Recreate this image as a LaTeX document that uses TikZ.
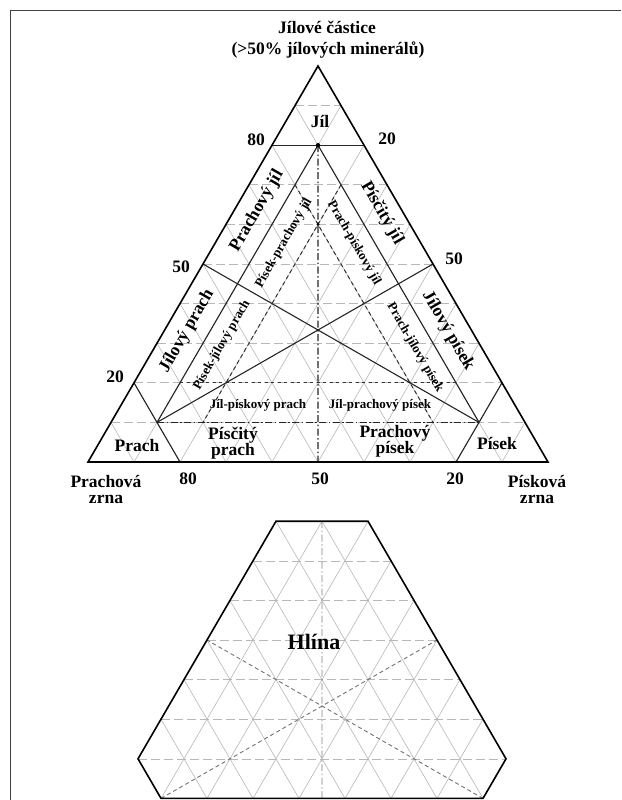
\documentclass[tikz,border=0pt]{standalone}
\usepackage{fontspec}
\setmainfont{Liberation Serif}
\usetikzlibrary{calc}
\begin{document}
\begin{tikzpicture}[x=1pt,y=-1pt,
  frameline/.style={line width=1.2pt, black!75},
  outer/.style={line width=1.6pt, black, line join=miter},
  inner/.style={line width=1.1pt, black!85},
  gridl/.style={line width=0.6pt, black!28},
  gridh/.style={line width=0.6pt, black!28, dash pattern=on 9pt off 4pt},
  dashdotline/.style={line width=1.1pt, black!85, dash pattern=on 7pt off 2.5pt on 1.5pt off 2.5pt},
  dashline/.style={line width=1pt, black!80, dash pattern=on 4pt off 3pt},
  dotline/.style={line width=1.3pt, black!80, dash pattern=on 3pt off 3.5pt},
  hexdash/.style={line width=0.9pt, black!55, dash pattern=on 4pt off 3pt},
  bigl/.style={font=\bfseries\fontsize{17.5}{16}\selectfont, align=center, inner sep=0pt},
  smalll/.style={font=\bfseries\fontsize{13}{14}\selectfont, inner sep=0pt},
  hexl/.style={font=\bfseries\fontsize{22}{24}\selectfont, inner sep=0pt},
]
\useasboundingbox (0,0) rectangle (621,800);
\fill[white] (0,0) rectangle (621,800);
\draw[frameline] (10.5,800) -- (10.5,10.5) -- (621,10.5);

% ---------- upper triangle ----------
\coordinate (A) at (318,66);
\coordinate (L) at (88,462);
\coordinate (R) at (548,462);

\foreach \k in {1,...,9}{
  \draw[gridh] ($(A)!\k/10!(L)$) -- ($(A)!\k/10!(R)$);
  \draw[gridl] ($(L)!\k/10!(R)$) -- ($(L)!\k/10!(A)$);
  \draw[gridl] ($(R)!\k/10!(L)$) -- ($(R)!\k/10!(A)$);
}

\coordinate (T)  at (barycentric cs:A=0.8,L=0.1,R=0.1);
\coordinate (P1) at (barycentric cs:A=0.1,L=0.8,R=0.1);
\coordinate (P2) at (barycentric cs:A=0.1,L=0.1,R=0.8);
\coordinate (ML) at (barycentric cs:A=1,L=1,R=0);
\coordinate (MR) at (barycentric cs:A=1,L=0,R=1);
\coordinate (MB) at (barycentric cs:A=0,L=1,R=1);
\coordinate (D)  at (barycentric cs:A=0.6,L=0.2,R=0.2);
\coordinate (K1) at (barycentric cs:A=0.8,L=0.2,R=0);
\coordinate (K2) at (barycentric cs:A=0.8,L=0,R=0.2);
\coordinate (S1) at (barycentric cs:A=0.2,L=0.8,R=0);
\coordinate (S2) at (barycentric cs:A=0,L=0.8,R=0.2);
\coordinate (N1) at (barycentric cs:A=0.2,L=0,R=0.8);
\coordinate (N2) at (barycentric cs:A=0,L=0.2,R=0.8);
\coordinate (Q1) at (barycentric cs:A=0.7,L=0.1,R=0.2);
\coordinate (Q2) at (barycentric cs:A=0.1,L=0.7,R=0.2);
\coordinate (U1) at (barycentric cs:A=0.7,L=0.2,R=0.1);
\coordinate (U2) at (barycentric cs:A=0.1,L=0.2,R=0.7);
\coordinate (V1) at (barycentric cs:A=0.2,L=0.7,R=0.1);
\coordinate (V2) at (barycentric cs:A=0.2,L=0.1,R=0.7);

\draw[dashline] (Q1) -- (Q2);
\draw[dashline] (U1) -- (U2);
\draw[dotline] (V1) -- (V2);
\draw[dashdotline] (T) -- (MB);
\draw[dashdotline] (P1) -- (P2);
\draw[inner] (T) -- (P1);
\draw[inner] (T) -- (P2);
\draw[inner] (P1) -- (MR);
\draw[inner] (P2) -- (ML);
\draw[inner] (K1) -- (K2);
\draw[inner] (S1) -- (S2);
\draw[inner] (N1) -- (N2);
\draw[outer] (A) -- (L) -- (R) -- cycle;
\fill (T) circle (2.2);
\fill (D) circle (1.6);

% labels
\node[bigl] (title1) at (327,27) {Jílové částice};
\node[bigl] (title2) at (328,50) {(>50\% jílových minerálů)};
\node[bigl] (jil) at (320,122) {Jíl};
\node[bigl] (n80a) at (256,140) {80};
\node[bigl] (n20a) at (387,139) {20};
\node[bigl] (n50a) at (181,267) {50};
\node[bigl] (n50b) at (454,259) {50};
\node[bigl] (n20b) at (115,377) {20};
\node[bigl, rotate=60] (pj) at (257,211) {Prachový jíl};
\node[bigl, rotate=60] (jp) at (187,331) {Jílový prach};
\node[bigl, rotate=-60] (sj) at (382,213) {Písčitý jíl};
\node[bigl, rotate=-60] (js) at (448,331) {Jílový písek};
\node[smalll, rotate=60] (spj) at (284,243) {Písek-prachový jíl};
\node[smalll, rotate=60] (sjp) at (222,345) {Písek-jílový prach};
\node[smalll, rotate=-60] (psj) at (354,243) {Prach-pískový jíl};
\node[smalll, rotate=-60] (pjs) at (415,348) {Prach-jílový písek};
\node[smalll] (jsp) at (258,405) {Jíl-pískový prach};
\node[smalll] (jps) at (380,405) {Jíl-prachový písek};
\node[bigl] (prach) at (137,446) {Prach};
\node[bigl] (sprach) at (233,443) {Písčitý\\prach};
\node[bigl] (ppisek) at (395,441) {Prachový\\písek};
\node[bigl] (pisek) at (497,443) {Písek};
\node[bigl] (sz1) at (106,489) {Prachová\\zrna};
\node[bigl] (b80) at (188,479) {80};
\node[bigl] (b50) at (320,479) {50};
\node[bigl] (b20) at (455,479) {20};
\node[bigl] (sz2) at (537,489) {Písková\\zrna};

% ---------- lower hexagon ----------
\coordinate (A2) at (322,442);
\coordinate (L2) at (92,838);
\coordinate (R2) at (552,838);
\coordinate (H1) at (barycentric cs:A2=0.8,L2=0.2,R2=0);
\coordinate (H2) at (barycentric cs:A2=0.8,L2=0,R2=0.2);
\coordinate (H3) at (barycentric cs:A2=0.2,L2=0,R2=0.8);
\coordinate (H4) at (barycentric cs:A2=0.1,L2=0.1,R2=0.8);
\coordinate (H5) at (barycentric cs:A2=0.1,L2=0.8,R2=0.1);
\coordinate (H6) at (barycentric cs:A2=0.2,L2=0.8,R2=0);
\coordinate (T2) at (barycentric cs:A2=0.8,L2=0.1,R2=0.1);
\coordinate (B2) at (barycentric cs:A2=0.1,L2=0.45,R2=0.45);
\coordinate (ML2) at (barycentric cs:A2=1,L2=1,R2=0);
\coordinate (MR2) at (barycentric cs:A2=1,L2=0,R2=1);

\begin{scope}
\clip (H1) -- (H2) -- (H3) -- (H4) -- (H5) -- (H6) -- cycle;
\foreach \k in {1,...,9}{
  \draw[gridh] ($(A2)!\k/10!(L2)$) -- ($(A2)!\k/10!(R2)$);
  \draw[gridl] ($(L2)!\k/10!(R2)$) -- ($(L2)!\k/10!(A2)$);
  \draw[gridl] ($(R2)!\k/10!(L2)$) -- ($(R2)!\k/10!(A2)$);
}
\draw[hexdash] (H5) -- (MR2);
\draw[hexdash] (H4) -- (ML2);
\draw[dashdotline, black!50, line width=0.9pt] (T2) -- (B2);
\end{scope}
\draw[outer] (H1) -- (H2) -- (H3) -- (H4) -- (H5) -- (H6) -- cycle;
\node[hexl] (hlina) at (314,642) {Hlína};
\end{tikzpicture}
\end{document}
